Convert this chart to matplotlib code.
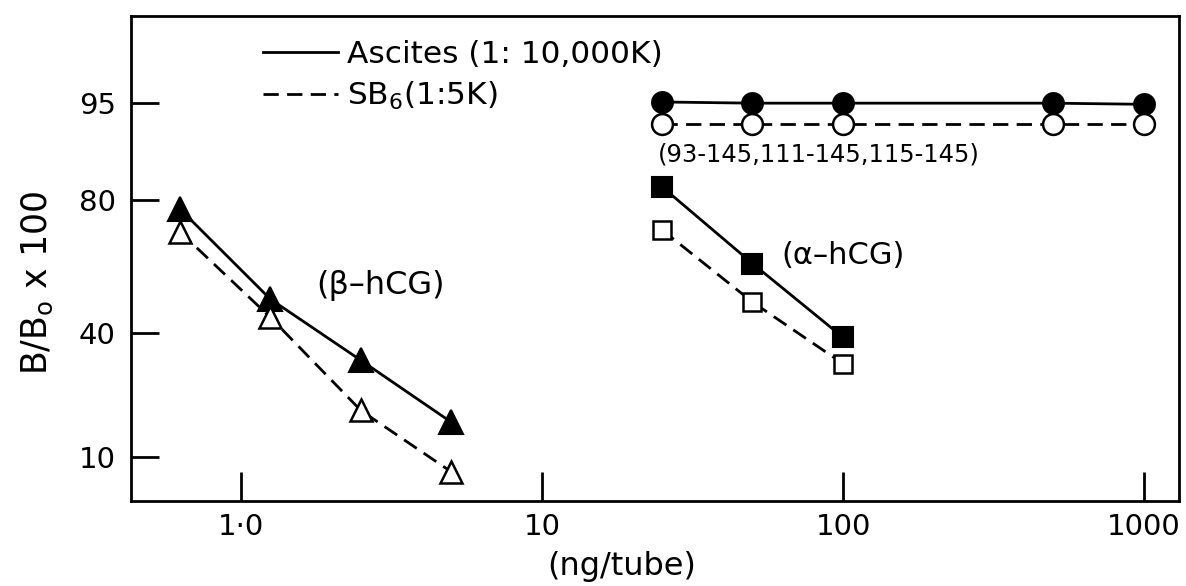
#!/usr/bin/env python3

import math

from matplotlib import pyplot as plt
from matplotlib.ticker import NullLocator
from matplotlib.lines import Line2D

import numpy as np

# Data (dose in ng/tube, B/B0 x 100)
beta_dose = [0.625, 1.25, 2.5, 5]
beta_ascites = [78, 51, 31.5, 16]
beta_sb6 = [72, 45, 18.5, 8]

alpha_dose = [25, 50, 100]
alpha_ascites = [83, 62.5, 38.5]
alpha_sb6 = [72.5, 50, 30.5]

peptide_dose = [25, 50, 100, 500, 1000]
peptide_ascites = [95.1, 95.0, 95.0, 95.0, 94.9]
peptide_sb6 = [93, 93, 93, 93, 93]

x_ticks = [1, 10, 100, 1000]
x_ticklabels = ["1·0", "10", "100", "1000"]
y_ticks = [10, 40, 80, 95]
y_ticklabels = ["10", "40", "80", "95"]

# probit (normal probability) scale for the y axis
Z_GRID = np.linspace(-6, 6, 24001)
_erf = np.vectorize(math.erf)
P_GRID = 0.5 * (1 + _erf(Z_GRID / math.sqrt(2)))


def probit_fwd(v):
    p = np.clip(np.asarray(v, dtype=float) / 100.0, P_GRID[0], P_GRID[-1])
    return np.interp(p, P_GRID, Z_GRID)


def probit_inv(z):
    return 100.0 * 0.5 * (1 + _erf(np.asarray(z, dtype=float) / math.sqrt(2)))


plt.rcParams['font.family'] = ['DejaVu Sans']
plt.rcParams['mathtext.fontset'] = 'dejavusans'

fig = plt.figure(figsize=(11.86, 5.86), dpi=100)
ax = fig.add_axes([0.1105, 0.1451, 0.8836, 0.8276])

lw = 2.0
dash = (0, (5.5, 3))
solid_kw = dict(color='k', lw=lw, ls='-', mfc='k', mec='k', mew=1.5)
open_kw = dict(color='k', lw=lw, ls=dash, mfc='white', mec='k', mew=1.8)

ax.plot(beta_dose, beta_ascites, marker='^', ms=17, **solid_kw)
ax.plot(beta_dose, beta_sb6, marker='^', ms=16, **open_kw)
ax.plot(alpha_dose, alpha_ascites, marker='s', ms=14, **solid_kw)
ax.plot(alpha_dose, alpha_sb6, marker='s', ms=13, **open_kw)
ax.plot(peptide_dose, peptide_ascites, marker='o', ms=15, **solid_kw)
ax.plot(peptide_dose, peptide_sb6, marker='o', ms=15, **open_kw)

ax.set_xscale('log')
ax.set_yscale('function', functions=(probit_fwd, probit_inv))
ax.set_xlim(0.431, 1306)
ax.set_ylim(5, 99.1)

ax.set_xticks(x_ticks)
ax.set_xticklabels(x_ticklabels)
ax.set_yticks(y_ticks)
ax.set_yticklabels(y_ticklabels)
ax.xaxis.set_minor_locator(NullLocator())
ax.yaxis.set_minor_locator(NullLocator())
ax.tick_params(axis='x', direction='in', length=21, width=2,
               labelsize=21, pad=9)
ax.tick_params(axis='y', direction='in', length=20, width=2,
               labelsize=21, pad=11)
for sp in ax.spines.values():
    sp.set_linewidth(2)

# legend (line styles only)
handles = [Line2D([], [], color='k', lw=lw, ls='-'),
           Line2D([], [], color='k', lw=lw, ls=dash)]
ax.legend(handles, ["Ascites (1: 10,000K)", "SB$_6$(1:5K)"],
          loc='upper left', bbox_to_anchor=(0.126, 0.95),
          frameon=False, fontsize=22.5, handlelength=2.4,
          handletextpad=0.3, labelspacing=0.35, borderpad=0,
          borderaxespad=0)

ax.text(0.2385, 0.445, "(β–hCG)", transform=ax.transAxes,
        ha='center', va='center', fontsize=23)
ax.text(0.679, 0.507, "(α–hCG)", transform=ax.transAxes,
        ha='center', va='center', fontsize=22)
ax.text(0.6565, 0.714, "(93-145,111-145,115-145)", transform=ax.transAxes,
        ha='center', va='center', fontsize=17.5)

fig.text(37 / 1186, 1 - 283 / 586, "B/B$_\\mathregular{o}$ x 100",
         rotation=90, ha='center', va='center', fontsize=25)
fig.text(622 / 1186, 1 - 567 / 586, "(ng/tube)",
         ha='center', va='center', fontsize=23)

fig.savefig("out.png", dpi=100)
plt.close(fig)
